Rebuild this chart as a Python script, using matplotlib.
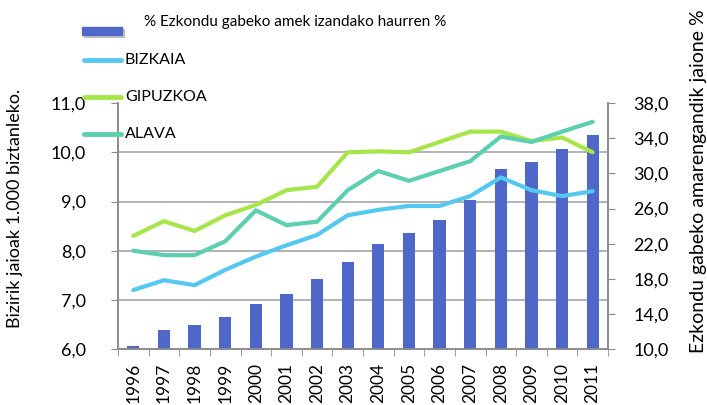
import numpy as np
import matplotlib
matplotlib.use("Agg")
import matplotlib.pyplot as plt
from matplotlib.lines import Line2D
from matplotlib.patches import Rectangle
from matplotlib.ticker import FuncFormatter

plt.rcParams['font.family'] = ['Lato', 'DejaVu Sans']

years = [str(y) for y in range(1996, 2012)]
bizkaia = [7.20, 7.40, 7.30, 7.61, 7.88, 8.11, 8.32, 8.72, 8.83, 8.91, 8.91, 9.11, 9.49, 9.23, 9.11, 9.21]
gipuzkoa = [8.30, 8.60, 8.40, 8.72, 8.93, 9.23, 9.30, 10.0, 10.02, 10.0, 10.21, 10.42, 10.42, 10.23, 10.30, 10.0]
alava = [8.00, 7.91, 7.91, 8.19, 8.82, 8.52, 8.59, 9.23, 9.62, 9.42, 9.62, 9.82, 10.32, 10.21, 10.42, 10.62]
ezkondu_gabe = [10.4, 12.2, 12.7, 13.6, 15.1, 16.3, 18.0, 19.9, 22.0, 23.2, 24.7, 27.0, 30.5, 31.3, 32.8, 34.4]

bar_color = "#4F67C8"
colors = {"BIZKAIA": "#55C8F0", "GIPUZKOA": "#A6E64A", "ALAVA": "#5BCFAF"}
grey = "#8C8C8C"

fig = plt.figure(figsize=(7.07, 4.05), dpi=100)
ax = fig.add_axes([0.1669, 0.138, 0.6931, 0.6074])
ax2 = ax.twinx()
ax.set_zorder(ax2.get_zorder() + 1)
ax.patch.set_visible(False)

x = np.arange(len(years))
comma = FuncFormatter(lambda v, p: f"{v:.1f}".replace(".", ","))

# bars on the right scale
ax2.bar(x, ezkondu_gabe, width=0.4, color=bar_color, zorder=3)
ax2.set_ylim(10, 38)
ax2.set_yticks(np.arange(10, 39, 4))
ax2.yaxis.set_major_formatter(comma)
# grid lines at the left axis ticks, drawn behind the bars
ax2.set_yticks([10 + (t - 6) * 28 / 5 for t in range(6, 12)], minor=True)
ax2.grid(which="minor", axis="y", color="#A6A6A6", linewidth=1.2, zorder=0)
ax2.tick_params(which="minor", length=0)
ax2.tick_params(axis="y", which="major", length=5, color=grey, labelsize=13, pad=13)
ax2.set_ylabel("Ezkondu gabeko amarengandik jaione %", fontsize=14)
ax2.yaxis.set_label_coords(1.168, 0.683)

# lines on the left scale
for name, vals in (("BIZKAIA", bizkaia), ("GIPUZKOA", gipuzkoa), ("ALAVA", alava)):
    ax.plot(x, vals, color=colors[name], linewidth=3, solid_capstyle="round", zorder=5)
ax.set_ylim(6, 11)
ax.set_yticks(np.arange(6, 12, 1))
ax.yaxis.set_major_formatter(comma)
ax.tick_params(axis="y", length=5, color=grey, labelsize=13, pad=18)
ax.set_ylabel("Bizirik jaioak 1.000 biztanleko.", fontsize=13)
ax.yaxis.set_label_coords(-0.194, 0.573)

ax.set_xlim(-0.5, len(years) - 0.5)
ax.set_xticks(x)
ax.set_xticklabels(years, rotation=90, fontsize=12.5)
ax.set_xticks(np.arange(-0.5, len(years)), minor=True)
ax.tick_params(axis="x", which="major", length=0, pad=10)
ax.tick_params(axis="x", which="minor", length=5, color=grey)

for a in (ax, ax2):
    a.spines["top"].set_visible(False)
    for s in ("left", "right", "bottom"):
        a.spines[s].set_color(grey)
        a.spines[s].set_linewidth(1.2)

# legend stacked in the top-left corner
W, H = 707, 405
def fx(px):
    return px / W
def fy(py):
    return 1 - py / H

fig.add_artist(Rectangle((fx(84), fy(37)), fx(40), 8 / H, color="#9A9A9A", alpha=0.5, zorder=1))
fig.add_artist(Rectangle((fx(82), fy(35)), fx(40), 8 / H, color=bar_color, zorder=2))
fig.text(fx(144), fy(22), "% Ezkondu gabeko amek izandako haurren %", fontsize=11, va="center")
for name, py in (("BIZKAIA", 60), ("GIPUZKOA", 97), ("ALAVA", 134)):
    fig.add_artist(Line2D([fx(84), fx(121)], [fy(py), fy(py)], color=colors[name],
                          linewidth=3.5, solid_capstyle="round", zorder=6))
    fig.text(fx(125), fy(py), name, fontsize=11.5, va="center", zorder=7)

plt.savefig("out.png", dpi=100)
